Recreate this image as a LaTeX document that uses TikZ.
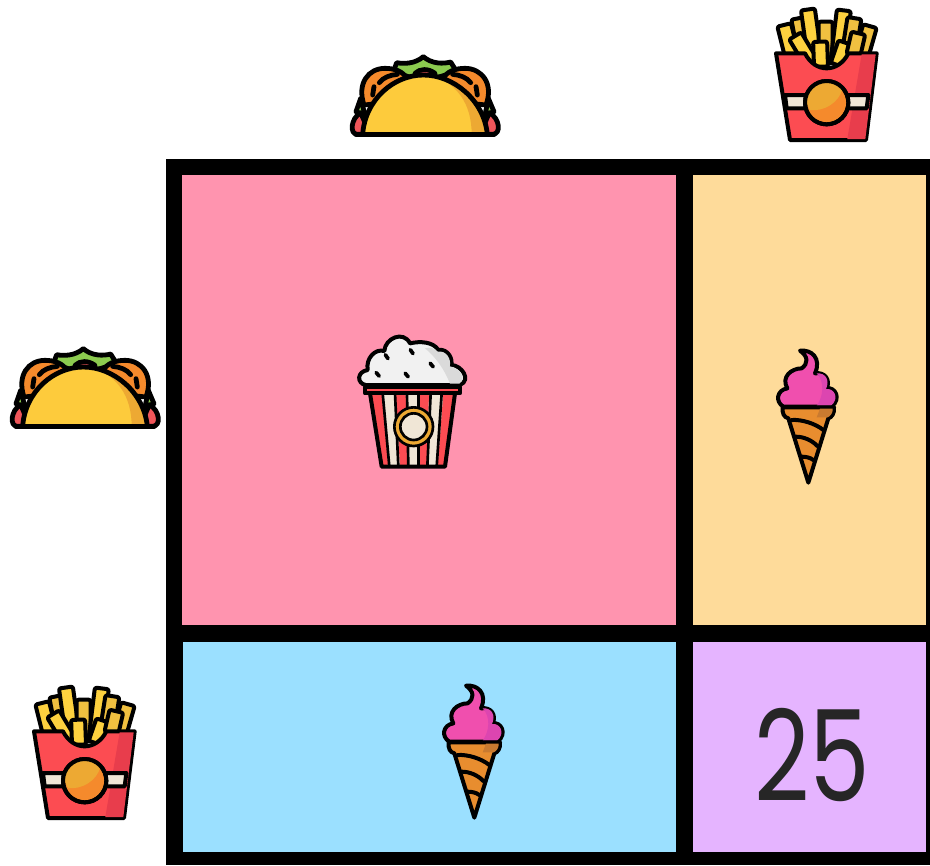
\documentclass[tikz,border=0pt]{standalone}
\usepackage{fontspec}
\newfontfamily\numfont{Poppins}
\definecolor{cellpink}{HTML}{FF94AF}
\definecolor{cellorange}{HTML}{FEDB9A}
\definecolor{cellblue}{HTML}{9BE0FF}
\definecolor{cellpurple}{HTML}{E5B4FF}
\definecolor{shellyellow}{HTML}{FDCB3C}
\definecolor{shelldark}{HTML}{EDA933}
\definecolor{lettuce}{HTML}{8CCB4F}
\definecolor{sauce}{HTML}{F0565A}
\definecolor{fillingorange}{HTML}{F58A2C}
\definecolor{boxred}{HTML}{FC4C52}
\definecolor{boxdark}{HTML}{E83D4C}
\definecolor{cream}{HTML}{F0E6D6}
\definecolor{fryyellow}{HTML}{FDD13F}
\definecolor{frydark}{HTML}{F0C040}
\definecolor{popwhite}{HTML}{F1F1F1}
\definecolor{popgrey}{HTML}{DADADA}
\definecolor{icepink}{HTML}{F04FAE}
\definecolor{icedark}{HTML}{DC45B0}
\definecolor{conetan}{HTML}{E88D2F}
\definecolor{conedark}{HTML}{C97A30}

\begin{document}
\begin{tikzpicture}[
  x=0.75pt,
  y=-0.75pt,
  ink/.style={draw=black, line width=3pt, line join=round, line cap=round},
  thinink/.style={draw=black, line width=2pt, line join=round, line cap=round},
  taco/.pic={
    \begin{scope}[scale=1/3, ink/.append style={line width=3.6pt}]
      % lettuce and sauce behind the shell
      \filldraw[ink, fill=lettuce] (170,68) .. controls (190,72) and (225,72) .. (250,50) .. controls (275,72) and (310,72) .. (332,66) -- (350,95) -- (250,125) -- (160,95) -- cycle;
      \filldraw[ink, fill=sauce] (225,100) .. controls (240,85) and (265,85) .. (285,100) -- (250,115) -- cycle;
      \filldraw[ink, fill=lettuce] (62,175) -- (48,215) -- (75,225) -- cycle;
      \filldraw[ink, fill=lettuce] (445,175) -- (462,215) -- (435,225) -- cycle;
      \filldraw[ink, fill=sauce] (62,218) .. controls (32,235) and (28,283) .. (52,283) -- (90,283) -- cycle;
      \filldraw[ink, fill=sauce] (448,218) .. controls (480,235) and (484,283) .. (458,283) -- (420,283) -- cycle;
      \filldraw[ink, fill=fillingorange] (72,195) .. controls (50,130) and (85,85) .. (135,85) .. controls (165,85) and (190,95) .. (200,115) -- (120,190) -- cycle;
      \filldraw[ink, fill=fillingorange] (438,195) .. controls (462,130) and (425,85) .. (375,85) .. controls (345,85) and (320,95) .. (310,115) -- (390,190) -- cycle;
      \draw[ink] (118,128) .. controls (130,112) and (150,105) .. (172,103);
      \draw[ink] (392,128) .. controls (380,112) and (360,105) .. (338,103);
      \draw[ink] (102,140) -- (98,165);
      \draw[ink] (408,140) -- (412,165);
      % shell
      \fill[shellyellow] (68,283) .. controls (75,180) and (160,105) .. (250,105) .. controls (340,105) and (432,180) .. (442,283) -- cycle;
      \fill[shelldark] (275,106) .. controls (350,130) and (395,190) .. (395,283) -- (442,283) .. controls (432,180) and (340,105) .. (275,106) -- cycle;
      \draw[ink] (68,283) .. controls (75,180) and (160,105) .. (250,105) .. controls (340,105) and (432,180) .. (442,283);
      \draw[ink] (48,283) -- (462,283);
    \end{scope}
  },
  fries/.pic={
    \begin{scope}[scale=1/3]
      % back row, then front row
      \foreach \bx/\by/\r/\l/\col in {95/165/14/93/fryyellow, 135/160/11/107/frydark, 165/180/8/153/fryyellow,
        197/190/0/125/frydark, 232/190/-7/160/fryyellow, 265/170/-9/117/frydark, 305/165/-16/90/frydark,
        155/190/31/96/fryyellow, 183/200/2/75/fryyellow, 232/195/-19/71/fryyellow, 280/165/-13/67/frydark}
      {
        \begin{scope}[shift={(\bx,\by)}, rotate=\r]
          \filldraw[ink, fill=\col, rounded corners=1.5pt] (-21,0) rectangle (21,-\l);
        \end{scope}
      }
      \filldraw[ink, fill=boxred] (48,160) -- (135,160) .. controls (150,190) and (175,205) .. (200,205) .. controls (225,205) and (250,190) .. (265,160) -- (350,160) -- (318,420) -- (90,420) -- cycle;
      \fill[boxdark] (305,163) -- (347,163) -- (316,417) -- (262,417) -- cycle;
      \filldraw[ink, fill=cream] (75,285) -- (325,285) -- (320,325) -- (80,325) -- cycle;
      \filldraw[ink, fill=fillingorange] (200,308) circle (65);
      \fill[shelldark] (140,308) .. controls (140,270) and (170,245) .. (200,245) .. controls (225,245) and (240,255) .. (247,268) .. controls (235,310) and (190,335) .. (150,330) -- cycle;
      \draw[ink] (200,308) circle (65);
    \end{scope}
  },
  popcorn/.pic={
    \begin{scope}[scale=1/3]
      \filldraw[ink, fill=popwhite] (62,180) .. controls (35,175) and (35,140) .. (68,135) .. controls (62,100) and (90,70) .. (118,78) .. controls (120,40) and (175,15) .. (195,55) .. controls (225,48) and (265,50) .. (280,75) .. controls (310,70) and (325,105) .. (318,120) .. controls (350,120) and (380,165) .. (345,180) -- cycle;
      \fill[popgrey] (240,70) .. controls (265,90) and (295,125) .. (315,176) -- (343,176) .. controls (365,160) and (345,128) .. (314,124) .. controls (320,105) and (305,75) .. (278,80) .. controls (270,70) and (255,65) .. (240,70) -- cycle;
      \foreach \kx/\ky/\ka in {125/95/55, 200/80/55, 260/120/50, 98/148/50, 185/150/50}
      {
        \draw[black, line width=2.8pt, line cap=round] (\kx,\ky) ++(\ka:-7) -- ++(\ka:14);
      }
      % bucket with its stripes
      \fill[cream] (75,205) -- (330,205) -- (300,425) -- (110,425) -- cycle;
      \foreach \ta/\tb/\ba/\bb in {75/110/110/130, 152/182/165/187, 225/252/225/245, 295/330/278/300}
      {
        \fill[boxred] (\ta,205) -- (\tb,205) -- (\bb,425) -- (\ba,425) -- cycle;
      }
      \foreach \ta/\ba in {113/133, 150/160, 186/190, 220/220, 257/247, 290/275}
      {
        \draw[thinink] (\ta,205) -- (\ba,425);
      }
      \draw[ink] (75,205) -- (110,425) -- (300,425) -- (330,205);
      \filldraw[ink, fill=boxred] (60,185) -- (345,185) -- (345,205) -- (60,205) -- cycle;
      \filldraw[thinink, fill=shelldark] (206,305) circle (58);
      \filldraw[thinink, fill=cream] (206,305) circle (40);
    \end{scope}
  },
  icecone/.pic={
    \begin{scope}[scale=1/3]
      \filldraw[ink, fill=icepink] (120,32) .. controls (155,28) and (185,55) .. (165,100) .. controls (195,95) and (212,120) .. (200,145) .. controls (225,140) and (245,175) .. (215,200) -- (70,200) .. controls (45,185) and (50,150) .. (82,145) .. controls (62,110) and (95,85) .. (125,85) .. controls (145,70) and (145,50) .. (120,32) -- cycle;
      \fill[icedark] (170,100) .. controls (197,98) and (210,120) .. (198,147) .. controls (222,143) and (240,175) .. (213,197) -- (170,197) .. controls (190,170) and (195,125) .. (170,100) -- cycle;
      \filldraw[ink, fill=conetan] (68,202) -- (222,202) .. controls (224,220) and (215,232) .. (205,235) -- (145,428) -- (85,235) .. controls (72,232) and (66,220) .. (68,202) -- cycle;
      \fill[conedark] (180,206) -- (218,206) .. controls (219,218) and (212,228) .. (203,232) -- (170,232) -- cycle;
      \draw[ink] (95,240) .. controls (125,238) and (165,250) .. (190,270);
      \draw[ink] (107,290) .. controls (130,290) and (155,300) .. (172,318);
      \draw[ink] (125,350) .. controls (135,350) and (150,352) .. (160,360);
    \end{scope}
  }
]
  \useasboundingbox (0,0) rectangle (930,865);

  % grid
  \fill[black] (166,159) rectangle (930,865);
  \fill[cellpink] (182,175) rectangle (676,625);
  \fill[cellorange] (693,175) rectangle (926,625);
  \fill[cellblue] (183,642) rectangle (676,852);
  \fill[cellpurple] (693,642) rectangle (926,852);

  \pic (tacotop) at (340,40) {taco};
  \pic (friestop) at (760,0) {fries};
  \pic (tacoleft) at (0,332) {taco};
  \pic (friesleft) at (18,678) {fries};
  \pic (popcornpink) at (345,325) {popcorn};
  \pic (coneorange) at (760,340) {icecone};
  \pic (coneblue) at (426,675) {icecone};

  \node[text=black!85, font=\numfont\fontsize{95}{95}\selectfont, xscale=0.76, transform shape, inner sep=0pt] (total) at (812,754.5) {25};
\end{tikzpicture}
\end{document}
